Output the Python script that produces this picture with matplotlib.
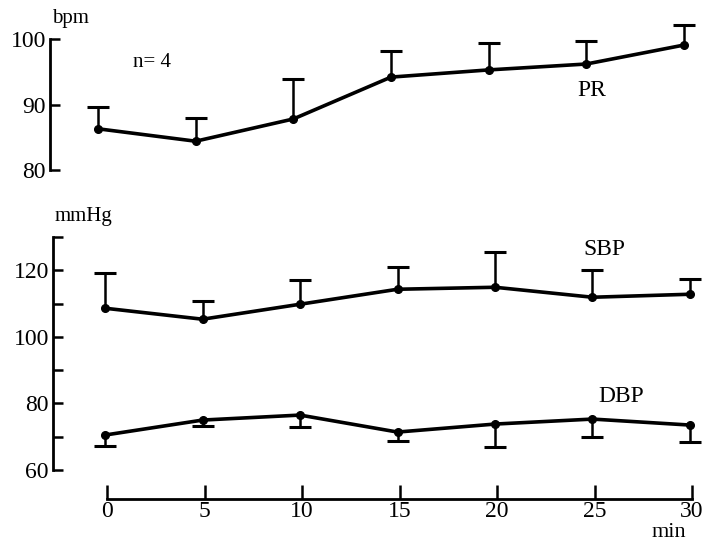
import matplotlib
matplotlib.use('Agg')
import matplotlib.pyplot as plt
import numpy as np

plt.rcParams['font.family'] = ['Liberation Serif', 'DejaVu Serif']

time = [0, 5, 10, 15, 20, 25, 30]
pr = [86.3, 84.4, 87.8, 94.2, 95.3, 96.2, 99.1]
pr_sd = [3.3, 3.5, 6.1, 4.0, 4.1, 3.5, 3.0]
sbp = [108.6, 105.3, 109.8, 114.3, 114.9, 111.9, 112.8]
sbp_sd = [10.5, 5.4, 7.2, 6.6, 10.5, 8.1, 4.5]
dbp = [70.5, 75.0, 76.5, 71.4, 73.8, 75.3, 73.5]
dbp_sd = [3.3, 1.8, 3.6, 2.7, 6.9, 5.4, 5.1]

W, H = 705, 543
fig = plt.figure(figsize=(W / 100, H / 100), dpi=100)
fig.patch.set_facecolor('white')

def rect(x0, y0, x1, y1):
    # pixel box -> figure fraction
    return [x0 / W, 1 - y1 / H, (x1 - x0) / W, (y1 - y0) / H]

def ftext(x, y, s, size, **kw):
    fig.text(x / W, 1 - y / H, s, fontsize=size, **kw)

def series(ax, y, sd, up=True):
    zeros = np.zeros(len(sd))
    err = [zeros, sd] if up else [sd, zeros]
    eb = ax.errorbar(time, y, yerr=err, fmt='none', ecolor='black',
                     elinewidth=1.8, capsize=8, capthick=2.2, zorder=2)
    eb[1][0 if up else 1].set_visible(False)
    ax.plot(time, y, '-o', color='black', lw=2.6, ms=5.5, zorder=3)

def style_left(ax, lo, hi):
    for s in ['top', 'right', 'bottom']:
        ax.spines[s].set_visible(False)
    ax.spines['left'].set_bounds(lo, hi)
    ax.spines['left'].set_linewidth(2.0)
    ax.set_xticks([])
    ax.tick_params(axis='y', which='both', direction='in', length=7.5,
                   width=1.8, labelsize=17, pad=3)
    ax.patch.set_alpha(0)

# PR panel
ax1 = fig.add_axes(rect(50, 13, 705, 170))
series(ax1, pr, pr_sd, up=True)
ax1.set_xlim(-2.46, 31.08)
ax1.set_ylim(80, 104)
ax1.set_yticks([80, 90, 100])
style_left(ax1, 80, 100)

# blood pressure panel
ax2 = fig.add_axes(rect(53, 237, 705, 470))
series(ax2, sbp, sbp_sd, up=True)
series(ax2, dbp, dbp_sd, up=False)
ax2.set_xlim(-2.67, 30.77)
ax2.set_ylim(60, 130)
ax2.set_yticks([60, 80, 100, 120])
ax2.set_yticks([70, 90, 110, 130], minor=True)
style_left(ax2, 60, 130)

# time axis
ax3 = fig.add_axes(rect(0, 470, 705, 499))
for s in ['top', 'right', 'left']:
    ax3.spines[s].set_visible(False)
ax3.spines['bottom'].set_bounds(0, 30)
ax3.spines['bottom'].set_linewidth(2.0)
ax3.set_xlim(-107 / 19.5, (705 - 107) / 19.5)
ax3.set_xticks(time)
ax3.set_yticks([])
ax3.tick_params(axis='x', direction='in', length=10, width=1.8,
                labelsize=17, pad=1.5)
ax3.patch.set_alpha(0)

ftext(52, 23, 'bpm', 15, va='baseline')
ftext(133, 67, 'n= 4', 15, va='baseline')
ftext(577, 96, 'PR', 17, va='baseline')
ftext(55, 221, 'mmHg', 15, va='baseline')
ftext(583, 255, 'SBP', 17, va='baseline')
ftext(598, 402, 'DBP', 17, va='baseline')
ftext(652, 537, 'min', 16, va='baseline')

fig.savefig('out.png', dpi=100, facecolor='white')
